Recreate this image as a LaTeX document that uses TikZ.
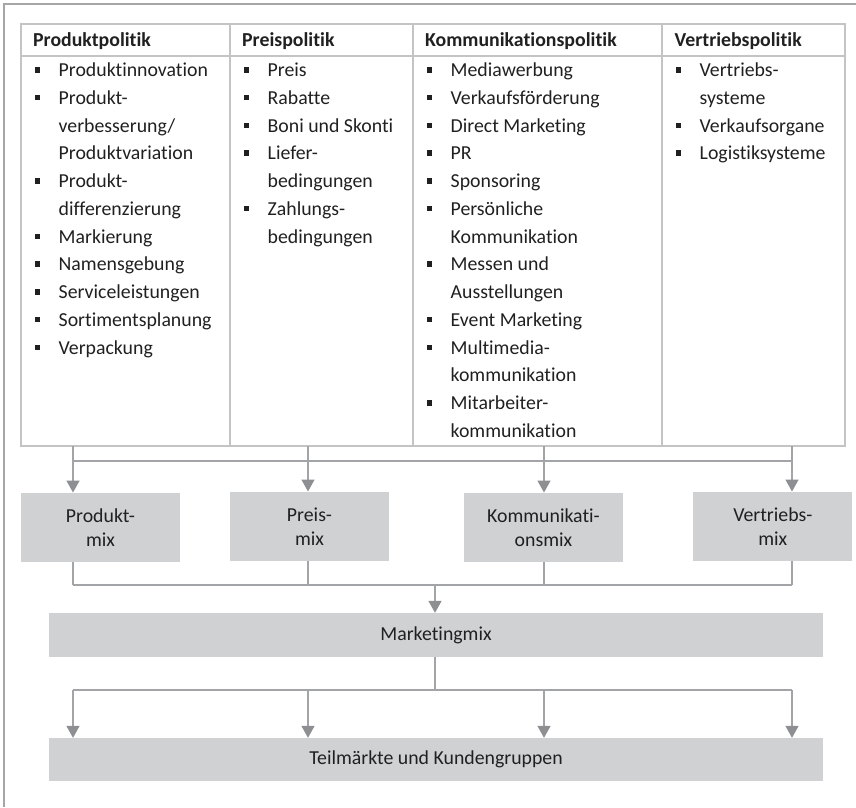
\documentclass[tikz,border=0pt]{standalone}
\usepackage{fontspec}
\setmainfont{Carlito}[Ligatures=NoCommon]
\usetikzlibrary{arrows.meta,calc}

\definecolor{framegray}{HTML}{A6A6A6}
\definecolor{gridgray}{HTML}{C4C4C4}
\definecolor{linegray}{HTML}{A3A4A7}
\definecolor{tipgray}{HTML}{8E8F93}
\definecolor{boxgray}{HTML}{D0D1D3}
\definecolor{ink}{HTML}{202020}

\newcommand\txtfont{\fontsize{19.8}{24}\selectfont}
\newcommand\rowgap{27.75}

\tikzset{
  frameline/.style={draw=framegray, line width=1.5pt},
  gridline/.style={draw=gridgray, line width=2pt},
  head/.style={anchor=base west, inner sep=0pt, font=\txtfont\bfseries, text=ink},
  item/.style={anchor=base west, inner sep=0pt, font=\txtfont, text=ink},
  bulletmark/.style={rectangle, fill=ink, inner sep=0pt, minimum size=5.4pt},
  mixbox/.style={fill=boxgray, inner sep=0pt, align=center, text=ink, font=\txtfont,
                 minimum width=159pt, minimum height=69pt},
  widebox/.style={fill=boxgray, inner sep=0pt, align=center, text=ink, font=\txtfont,
                  minimum width=774pt, minimum height=44pt},
  conn/.style={draw=linegray, line width=1.5pt},
  arrowconn/.style={conn, -{Triangle[length=12pt,width=13pt,color=tipgray]}}
}

% one column of list entries: #1 left edge of the column, #2 name prefix,
% #3 lines of text, #4 numbers of the lines that carry a bullet
\newcommand\listcolumn[4]{%
  \foreach \t [count=\i] in {#3}
    \node[item] (#2\i) at (#1+37.5, {76.7+(\i-1)*\rowgap}) {\t};
  \foreach \i in {#4}
    \node[bulletmark] at ([xshift=-21.3pt, yshift=6.9pt]#2\i.base west) {};
}

\begin{document}
\begin{tikzpicture}[x=1pt, y=-1pt]
  \useasboundingbox (0,0) rectangle (856,807);

  % outer frame (top and left edges)
  \draw[frameline] (856,4) -- (4,4) -- (4,807);

  % table grid
  \draw[gridline] (21,24) rectangle (845,446);
  \draw[gridline] (21,56) -- (845,56);
  \foreach \x in {230,413,662}
    \draw[gridline] (\x,24) -- (\x,446);

  % column heads
  \node[head] (h1) at (33,46.7) {Produktpolitik};
  \node[head] (h2) at (242,46.7) {Preispolitik};
  \node[head] (h3) at (425,46.7) {Kommunikationspolitik};
  \node[head] (h4) at (674.5,46.7) {Vertriebspolitik};

  % column entries
  \listcolumn{21}{pa}{Produktinnovation, Produkt-, {verbesserung/}, Produktvariation,
    Produkt-, differenzierung, Markierung, Namensgebung, Serviceleistungen,
    Sortimentsplanung, Verpackung}{1,2,5,7,8,9,10,11}
  \listcolumn{230}{pb}{Preis, Rabatte, Boni und Skonti, Liefer-, bedingungen,
    Zahlungs-, bedingungen}{1,2,3,4,6}
  \listcolumn{413}{pc}{Mediawerbung, Verkaufsförderung, Direct Marketing, PR,
    Sponsoring, Persönliche, Kommunikation, Messen und, Ausstellungen,
    Event Marketing, Multimedia-, kommunikation, Mitarbeiter-,
    kommunikation}{1,2,3,4,5,6,8,10,11,13}
  \listcolumn{662}{pd}{Vertriebs-, systeme, Verkaufsorgane, Logistiksysteme}{1,3,4}

  % mix boxes
  \node[mixbox] (pm)  at (100.5,527.2) {Produkt-\\mix};
  \node[mixbox] (prm) at (309.5,526.2) {Preis-\\mix};
  \node[mixbox] (km)  at (543.5,527.2) {Kommunikati-\\onsmix};
  \node[mixbox] (vm)  at (772.8,526.2) {Vertriebs-\\mix};

  \node[widebox] (mm) at (436,635) {Marketingmix};
  \node[widebox, minimum height=43pt] (tm) at (436,759.5) {Teilmärkte und Kundengruppen};

  % drop points under the table and the three bus lines
  \coordinate (d1) at (73,446);
  \coordinate (d2) at (308,446);
  \coordinate (d3) at (544,446);
  \coordinate (d4) at (792,446);
  \coordinate (busA) at (0,461);
  \coordinate (busB) at (0,585);
  \coordinate (busC) at (0,690);

  % table -> mix boxes
  \draw[conn] (d1 |- busA) -- (d4 |- busA);
  \foreach \k/\n in {d1/pm, d2/prm, d3/km, d4/vm}
    \draw[arrowconn] (\k) -- (\k |- \n.north);

  % mix boxes -> Marketingmix
  \foreach \k/\n in {d1/pm, d2/prm, d3/km, d4/vm}
    \draw[conn] (\k |- \n.south) -- (\k |- busB);
  \draw[conn] (d1 |- busB) -- (d4 |- busB);
  \draw[arrowconn] ([xshift=-1pt]mm.north |- busB) -- ([xshift=-1pt]mm.north);

  % Marketingmix -> Teilmärkte und Kundengruppen
  \draw[conn] ([xshift=-1pt]mm.south) -- ([xshift=-1pt]mm.south |- busC);
  \draw[conn] (d1 |- busC) -- (d4 |- busC);
  \foreach \k in {d1, d2, d3, d4}
    \draw[arrowconn] (\k |- busC) -- (\k |- tm.north);
\end{tikzpicture}
\end{document}
